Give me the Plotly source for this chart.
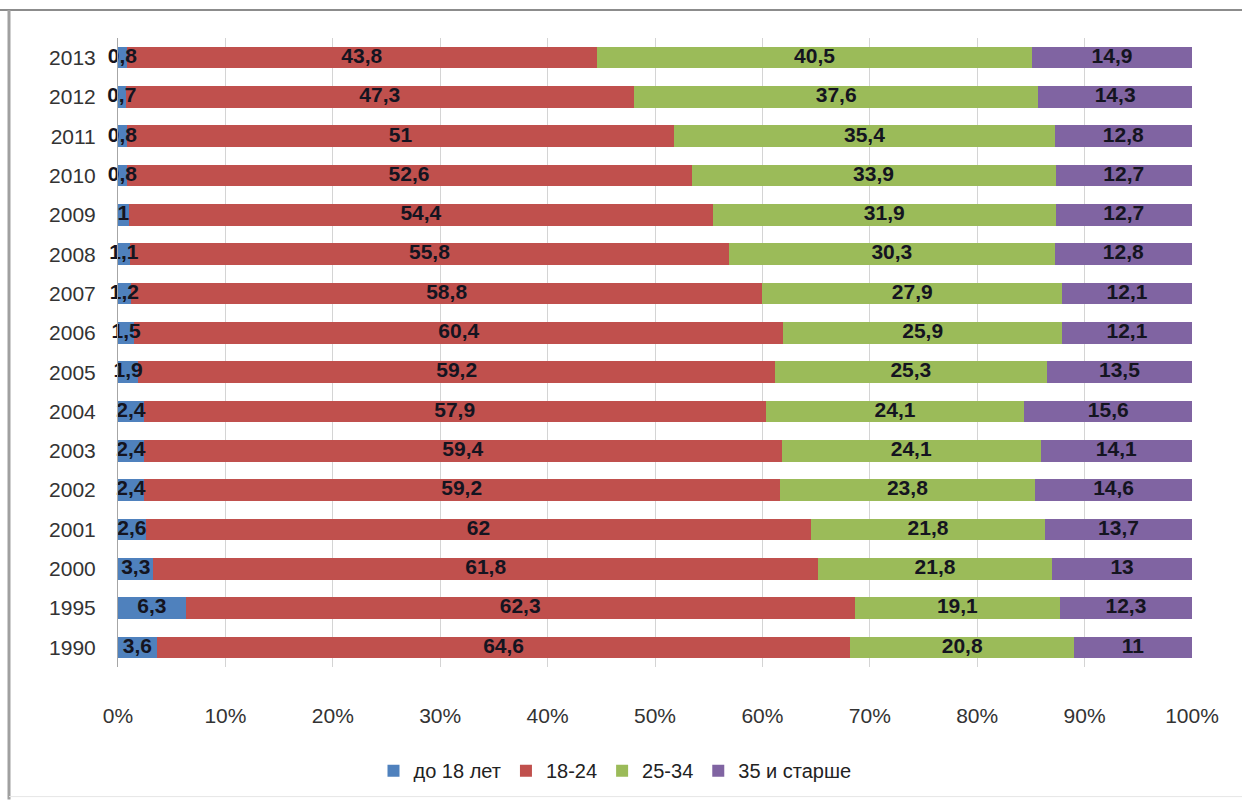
import plotly.graph_objects as go

years = ["1990", "1995", "2000", "2001", "2002", "2003", "2004", "2005",
         "2006", "2007", "2008", "2009", "2010", "2011", "2012", "2013"]
under18 = [3.6, 6.3, 3.3, 2.6, 2.4, 2.4, 2.4, 1.9, 1.5, 1.2, 1.1, 1, 0.8, 0.8, 0.7, 0.8]
age18_24 = [64.6, 62.3, 61.8, 62, 59.2, 59.4, 57.9, 59.2, 60.4, 58.8, 55.8, 54.4, 52.6, 51, 47.3, 43.8]
age25_34 = [20.8, 19.1, 21.8, 21.8, 23.8, 24.1, 24.1, 25.3, 25.9, 27.9, 30.3, 31.9, 33.9, 35.4, 37.6, 40.5]
age35plus = [11, 12.3, 13, 13.7, 14.6, 14.1, 15.6, 13.5, 12.1, 12.1, 12.8, 12.7, 12.7, 12.8, 14.3, 14.9]
x_ticks = [0, 10, 20, 30, 40, 50, 60, 70, 80, 90, 100]

series = [
    ("до 18 лет", under18, "#4F81BD"),
    ("18-24", age18_24, "#C0504D"),
    ("25-34", age25_34, "#9BBB59"),
    ("35 и старше", age35plus, "#8064A2"),
]

def fmt(v):
    return f"{v:g}".replace(".", ",")

totals = [sum(s[1][i] for s in series) for i in range(len(years))]

fig = go.Figure()
for name, vals, color in series:
    fig.add_trace(go.Bar(
        y=years, x=vals, name=name, orientation="h",
        marker=dict(color=color, line=dict(width=0)),
        hoverinfo="skip",
    ))

# data labels, centred on each normalised segment
cum = [0.0] * len(years)
for name, vals, color in series:
    centers = []
    for i, v in enumerate(vals):
        start = cum[i]
        cum[i] += v
        centers.append((start + v / 2) / totals[i] * 100)
    fig.add_trace(go.Scatter(
        x=centers, y=years, mode="text", text=[fmt(v) for v in vals],
        textposition="middle center", cliponaxis=False, showlegend=False,
        textfont=dict(family="Liberation Sans, Arial", size=21, color="#141420", weight="bold"),
        hoverinfo="skip",
    ))

L, R, T, B = 118, 50, 38, 133
W, H = 1242, 802
pw, ph = W - L - R, H - T - B

def px(x):
    return (x - L) / pw

def py(y):
    return (H - B - y) / ph

fig.update_layout(
    width=W, height=H,
    barmode="stack", barnorm="percent", bargap=0.45,
    margin=dict(l=L, r=R, t=T, b=B),
    paper_bgcolor="white", plot_bgcolor="white",
    separators=", ",
    font=dict(family="Liberation Sans, Arial", size=21, color="#333333"),
    xaxis=dict(range=[0, 100], tickvals=x_ticks,
               ticktext=[f"{v}%" for v in x_ticks],
               showgrid=True, gridcolor="#d4d4d4", gridwidth=1,
               zeroline=False, showline=False,
               ticks="outside", ticklen=30, tickcolor="rgba(0,0,0,0)",
               tickfont=dict(size=21, color="#333333"), fixedrange=True),
    yaxis=dict(type="category", categoryorder="array", categoryarray=years,
               range=[-0.5, len(years) - 0.5],
               showgrid=False, zeroline=False,
               showline=True, linecolor="#a6a6a6", linewidth=1,
               ticks="outside", ticklen=17, tickcolor="rgba(0,0,0,0)",
               tickfont=dict(size=21, color="#333333"), fixedrange=True),
    legend=dict(orientation="h", x=px(615), xanchor="center",
                y=py(773), yanchor="middle",
                font=dict(size=20, color="#222222"),
                traceorder="normal", itemclick=False),
    showlegend=True,
    shapes=[
        dict(type="line", xref="paper", yref="paper", x0=px(0), x1=px(W), y0=py(10), y1=py(10),
             line=dict(color="#8c8c8c", width=2)),
        dict(type="line", xref="paper", yref="paper", x0=px(9), x1=px(9), y0=py(10), y1=py(802),
             line=dict(color="#a0a0a0", width=3)),
        dict(type="line", xref="paper", yref="paper", x0=px(9), x1=px(W), y0=py(799), y1=py(799),
             line=dict(color="#e6e6e6", width=1)),
    ],
)

fig.write_html("out.html")
